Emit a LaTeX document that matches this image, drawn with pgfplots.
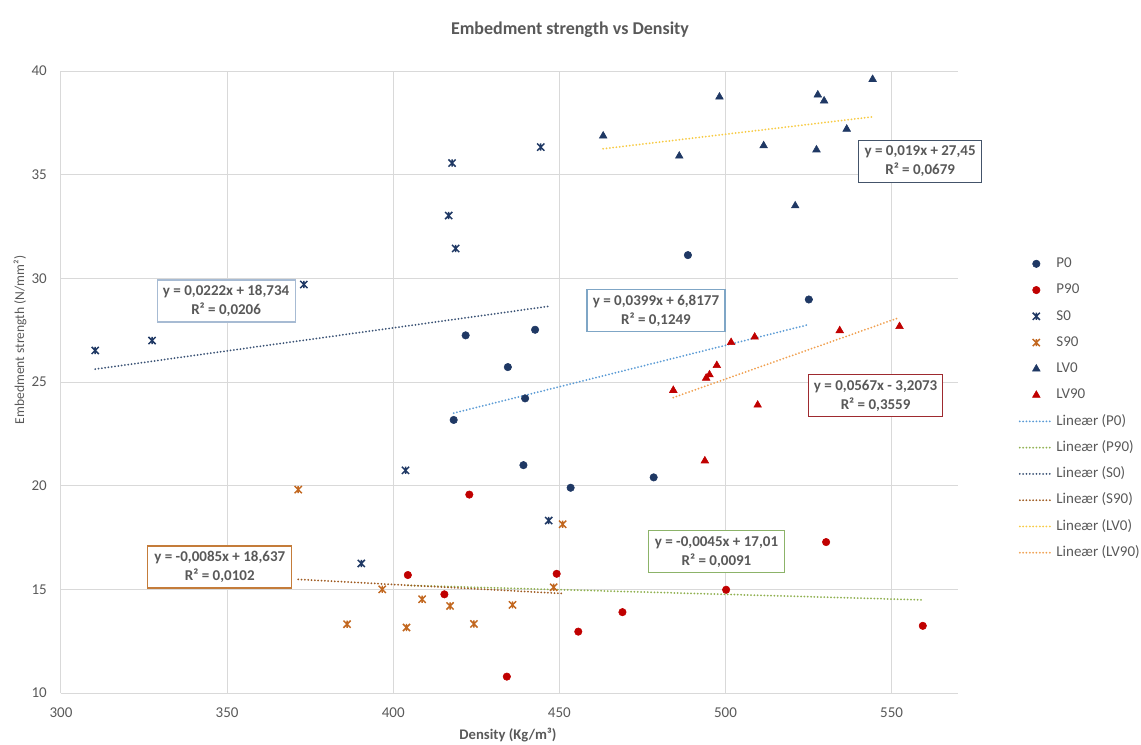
\documentclass[border=0pt]{standalone}
\usepackage{pgfplots}
\pgfplotsset{compat=1.18}
\usepackage{fontspec}
\setmainfont{Carlito}

\definecolor{navy}{HTML}{1F3864}
\definecolor{dred}{HTML}{C00000}
\definecolor{sorange}{HTML}{C2671F}
\definecolor{txt}{HTML}{595959}
\definecolor{gridc}{HTML}{D9D9D9}
% trendline colours
\definecolor{tP0}{HTML}{5B9BD5}
\definecolor{tP90}{HTML}{8FB04F}
\definecolor{tS0}{HTML}{3B5375}
\definecolor{tS90}{HTML}{9E5A20}
\definecolor{tLV0}{HTML}{F7CB45}
\definecolor{tLV90}{HTML}{F0A050}
% equation box borders
\definecolor{bS0}{HTML}{A7BBD3}
\definecolor{bP0}{HTML}{7FA6C6}
\definecolor{bLV0}{HTML}{44546A}
\definecolor{bLV90}{HTML}{9E2A2F}
\definecolor{bP90}{HTML}{8CB369}
\definecolor{bS90}{HTML}{C47C3A}

% x with a vertical bar (star marker)
\pgfdeclareplotmark{xstar}{%
  \pgfpathmoveto{\pgfqpoint{-.75\pgfplotmarksize}{-.75\pgfplotmarksize}}%
  \pgfpathlineto{\pgfqpoint{.75\pgfplotmarksize}{.75\pgfplotmarksize}}%
  \pgfpathmoveto{\pgfqpoint{-.75\pgfplotmarksize}{.75\pgfplotmarksize}}%
  \pgfpathlineto{\pgfqpoint{.75\pgfplotmarksize}{-.75\pgfplotmarksize}}%
  \pgfpathmoveto{\pgfqpoint{0pt}{-.75\pgfplotmarksize}}%
  \pgfpathlineto{\pgfqpoint{0pt}{.75\pgfplotmarksize}}%
  \pgfusepathqstroke}

\tikzset{
  trend/.style={line width=1.5pt, dash pattern=on 0pt off 2.5pt, line cap=round},
  eqbox/.style={draw=#1, fill=white, line width=0.9pt, align=center,
    font=\bfseries\fontsize{11.25}{14.25}\selectfont, text=txt,
    inner sep=0pt, minimum height=31.5pt},
}

\begin{document}
\begin{tikzpicture}
\path[use as bounding box] (-45.75pt,-38.25pt) rectangle (810pt,519.75pt);
\begin{axis}[
  at={(0,0)}, anchor=south west,
  scale only axis, width=672.75pt, height=466.5pt,
  xmin=300, xmax=570, ymin=10, ymax=40,
  xtick={300,350,...,550}, ytick={10,15,...,40},
  grid=major, major grid style={gridc, line width=0.75pt},
  axis x line*=bottom, axis y line*=left,
  axis line style={gridc, line width=0.75pt, -},
  major tick length=0pt,
  tick label style={font=\fontsize{11.25}{13}\selectfont, text=txt},
  /pgf/number format/assume math mode=true,
  xticklabel style={anchor=center, inner sep=0pt, yshift=-15pt},
  yticklabel style={anchor=east, inner sep=0pt, xshift=-10.5pt},
  xlabel={\bfseries Density (Kg/m³)},
  xlabel style={at={(axis description cs:0.4983,-0.0675)}, anchor=center,
    font=\fontsize{11}{13}\selectfont, text=txt},
  ylabel={Embedment strength (N/mm²)},
  ylabel style={at={(axis description cs:-0.0457,0.5675)}, anchor=center,
    font=\fontsize{10.2}{12}\selectfont, text=txt},
  clip=false,
  legend cell align=left,
  legend style={draw=none, fill=none, at={(axis description cs:1.063,0.706)},
    anchor=north west, font=\fontsize{11.25}{13}\selectfont, text=txt,
    row sep=9.2pt, nodes={inner xsep=1.9pt, inner ysep=0pt, text height=8pt, text depth=2.5pt}},
  legend image code/.code={\draw[mark repeat=2,mark phase=2]
    plot coordinates {(0pt,0pt) (12.4pt,0pt) (24.8pt,0pt)};},
]
% measured points
\addplot[only marks, mark=*, mark size=2.8pt, color=navy] coordinates {
  (418.2,23.17) (421.8,27.25) (434.5,25.72) (439.2,20.99) (439.7,24.21)
  (442.7,27.52) (453.4,19.90) (478.4,20.40) (488.7,31.12) (525.1,28.98)};
\addlegendentry{P0}
\addplot[only marks, mark=*, mark size=2.8pt, color=dred] coordinates {
  (404.4,15.69) (415.4,14.76) (422.9,19.57) (434.2,10.79) (449.2,15.75)
  (455.7,12.96) (469.0,13.90) (500.2,14.98) (530.3,17.28) (559.4,13.24)};
\addlegendentry{P90}
\addplot[only marks, mark=xstar, mark size=3.6pt, color=navy, line width=1.1pt] coordinates {
  (310.3,26.52) (327.4,27.00) (373.1,29.70) (390.4,16.25) (403.7,20.74)
  (416.7,33.03) (417.7,35.56) (418.8,31.44) (444.4,36.33) (446.8,18.32)};
\addlegendentry{S0}
\addplot[only marks, mark=xstar, mark size=3.6pt, color=sorange, line width=1.1pt] coordinates {
  (371.4,19.81) (386.1,13.32) (396.7,15.00) (404.0,13.16) (408.7,14.52)
  (417.1,14.20) (424.3,13.33) (435.9,14.25) (448.3,15.10) (451.0,18.14)};
\addlegendentry{S90}
\addplot[only marks, mark=triangle*, mark size=3.3pt, color=navy] coordinates {
  (463.2,36.87) (486.1,35.90) (498.2,38.75) (511.5,36.40) (521.0,33.50)
  (527.4,36.20) (527.8,38.85) (529.7,38.56) (536.5,37.20) (544.3,39.60)};
\addlegendentry{LV0}
\addplot[only marks, mark=triangle*, mark size=3.3pt, color=dred] coordinates {
  (484.3,24.60) (493.8,21.20) (494.2,25.19) (495.2,25.35) (497.4,25.80)
  (501.7,26.91) (508.8,27.17) (509.7,23.89) (534.4,27.48) (552.4,27.68)};
\addlegendentry{LV90}
% linear trendlines over each series' range
\addplot[trend, tP0] coordinates {(418.2,23.50) (525.1,27.77)};
\addlegendentry{Lineær (P0)}
\addplot[trend, tP90] coordinates {(404.4,15.19) (559.4,14.49)};
\addlegendentry{Lineær (P90)}
\addplot[trend, tS0] coordinates {(310.3,25.62) (446.8,28.65)};
\addlegendentry{Lineær (S0)}
\addplot[trend, tS90] coordinates {(371.4,15.48) (451.0,14.80)};
\addlegendentry{Lineær (S90)}
\addplot[trend, tLV0] coordinates {(463.2,36.25) (544.3,37.79)};
\addlegendentry{Lineær (LV0)}
\addplot[trend, tLV90] coordinates {(484.3,24.25) (552.4,28.11)};
\addlegendentry{Lineær (LV90)}
% trendline equations
\node[eqbox=bS0, minimum width=103.5pt] at (axis cs:349.7,28.91) {y = 0,0222x + 18,734\\R² = 0,0206};
\node[eqbox=bP0, minimum width=103.5pt] at (axis cs:479.1,28.43) {y = 0,0399x + 6,8177\\R² = 0,1249};
\node[eqbox=bLV0, minimum width=92.25pt] at (axis cs:558.6,35.64) {y = 0,019x + 27,45\\R² = 0,0679};
\node[eqbox=bLV90, minimum width=100.5pt] at (axis cs:545.2,24.35) {y = 0,0567x - 3,2073\\R² = 0,3559};
\node[eqbox=bP90, minimum width=102pt] at (axis cs:497.3,16.82) {y = -0,0045x + 17,01\\R² = 0,0091};
\node[eqbox=bS90, minimum width=108pt] at (axis cs:347.8,16.08) {y = -0,0085x + 18,637\\R² = 0,0102};
\end{axis}
\node[font=\bfseries\fontsize{13.5}{16}\selectfont, text=txt] at (381.75pt,497.5pt) {Embedment strength vs Density};
\end{tikzpicture}
\end{document}
